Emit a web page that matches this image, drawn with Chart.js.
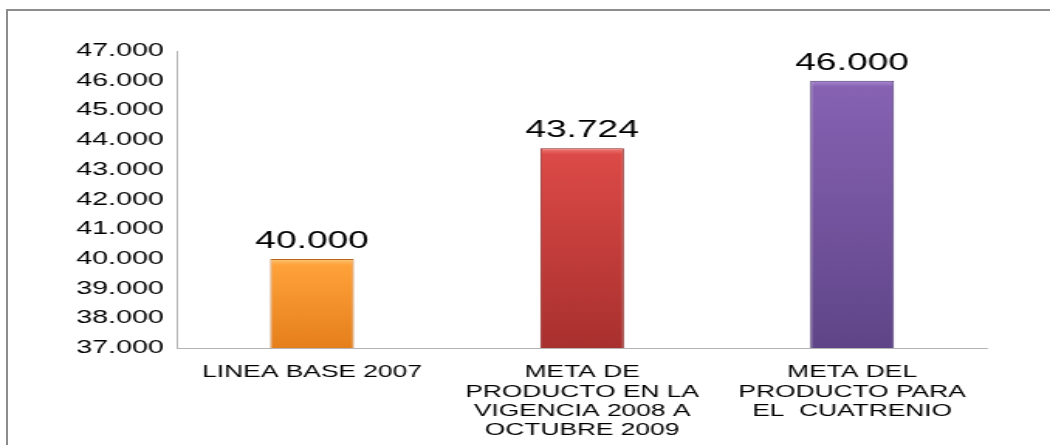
<!DOCTYPE html>
<html>
<head>
<meta charset="utf-8">
<script src="https://cdn.jsdelivr.net/npm/chart.js@4"></script>
<style>
  html, body { margin: 0; padding: 0; background: #fff; overflow: hidden; }
  body { width: 1050px; height: 445px; position: relative; }
  #frame {
    position: absolute; left: 6px; top: 9px; width: 2000px; height: 2000px;
    border-left: 2px solid #8c8c8c; border-top: 2px solid #8c8c8c;
  }
  /* the original picture is stretched sideways, so the chart is drawn narrow and widened */
  #wrap {
    position: absolute; left: 0; top: 0; width: 678px; height: 445px;
    transform: scaleX(1.5487); transform-origin: 0 0;
  }
</style>
</head>
<body>
<div id="frame"></div>
<div id="wrap"><canvas id="chart"></canvas></div>
<script>
// data
const categories = [
  "LINEA BASE 2007",
  ["META DE", "PRODUCTO EN LA", "VIGENCIA 2008 A", "OCTUBRE 2009"],
  ["META DEL", "PRODUCTO PARA", "EL  CUATRENIO"]
];
const values = [40000, 43724, 46000];
const yMin = 37000;
const yMax = 47000;
const yStep = 1000;

// colours of each bar: highlight, top, bottom, edge
const barLight = ["#ffc77a", "#ef7a76", "#a88bd0"];
const barTop = ["#ffa23a", "#dc4a47", "#8762b3"];
const barBottom = ["#e57f1c", "#a8302e", "#5f4588"];
const barEdge = ["#b8661a", "#8a2624", "#4b3670"];

const fmt = v => String(Math.round(v)).replace(/\B(?=(\d{3})+(?!\d))/g, ".");

const valueLabels = {
  id: "valueLabels",
  afterDatasetsDraw(chart) {
    const ctx = chart.ctx;
    const meta = chart.getDatasetMeta(0);
    ctx.save();
    ctx.font = "24px 'Liberation Sans', Arial, sans-serif";
    ctx.fillStyle = "#000";
    ctx.textAlign = "center";
    ctx.textBaseline = "alphabetic";
    meta.data.forEach((bar, i) => {
      ctx.fillText(fmt(values[i]), bar.x, bar.y - 11);
    });
    ctx.restore();
  }
};

function barFill(context) {
  const chart = context.chart;
  const i = context.dataIndex;
  if (!chart.chartArea) return barTop[i];
  const y = chart.scales.y;
  const top = y.getPixelForValue(context.raw);
  const base = y.getPixelForValue(yMin);
  const h = Math.max(base - top, 1);
  const g = chart.ctx.createLinearGradient(0, top, 0, base);
  g.addColorStop(0, barLight[i]);
  g.addColorStop(Math.min(6 / h, 0.5), barTop[i]);
  g.addColorStop(1, barBottom[i]);
  return g;
}

new Chart(document.getElementById("chart"), {
  type: "bar",
  data: {
    labels: categories,
    datasets: [{
      data: values,
      backgroundColor: barFill,
      borderColor: barEdge,
      borderWidth: 1,
      barPercentage: 0.31,
      categoryPercentage: 1
    }]
  },
  options: {
    responsive: true,
    maintainAspectRatio: false,
    animation: false,
    layout: { padding: { left: 0, top: 51, right: 40.6, bottom: 0 } },
    plugins: {
      legend: { display: false },
      tooltip: { enabled: false }
    },
    scales: {
      x: {
        grid: { display: false, drawTicks: false },
        border: { display: true, color: "#b4b4b4", width: 1 },
        ticks: {
          color: "#000",
          font: { family: "'Liberation Sans', Arial, sans-serif", size: 17, lineHeight: 1.135 },
          padding: 15,
          maxRotation: 0,
          autoSkip: false
        },
        afterFit: s => { s.height = 97; }
      },
      y: {
        min: yMin,
        max: yMax,
        grid: { display: false, drawTicks: false, tickLength: 0 },
        border: { display: true, color: "#b4b4b4", width: 1 },
        ticks: {
          stepSize: yStep,
          color: "#000",
          font: { family: "'Liberation Sans', Arial, sans-serif", size: 18.5 },
          padding: 8.5,
          callback: v => fmt(v)
        },
        afterFit: s => { s.width = 114.3; }
      }
    }
  },
  plugins: [valueLabels]
});
</script>
</body>
</html>
